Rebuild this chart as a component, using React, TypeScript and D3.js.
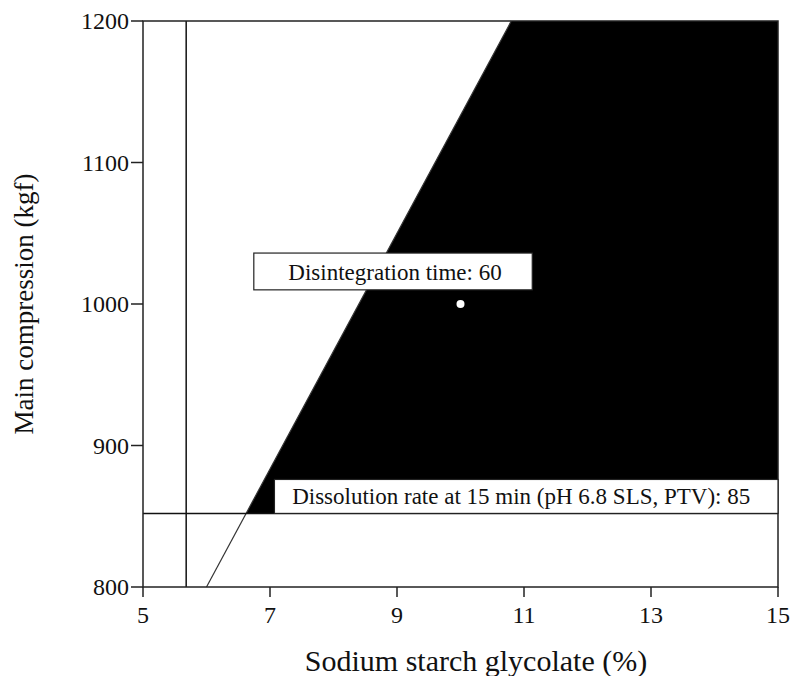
import React from 'react';
import * as d3 from 'd3';

// axis ticks
const xTicks = [5, 7, 9, 11, 13, 15];
const yTicks = [800, 900, 1000, 1100, 1200];

// constraint boundaries (x = SSG %, y = compression kgf)
const ssgLimit = 5.68;
const dissolutionLimit = 852;
const disintegrationBoundary: [number, number][] = [
  [6.0, 800],
  [10.8, 1200],
];
const designPoint: [number, number] = [10, 1000];

// annotation labels: box extents [x0, x1, y0, y1] in data units
const disintegrationLabel = 'Disintegration time: 60';
const disintegrationBox = [6.745, 11.13, 1010, 1036];
const dissolutionLabel = 'Dissolution rate at 15 min (pH 6.8 SLS, PTV): 85';
const dissolutionBox = [7.07, 15, 852, 876];

const W = 794;
const H = 676;
const margin = { top: 21, right: 16, bottom: 89, left: 143 };
const FONT = '"Liberation Serif", "Times New Roman", serif';

export default function App() {
  const x = d3.scaleLinear().domain([5, 15]).range([margin.left, W - margin.right]);
  const y = d3.scaleLinear().domain([800, 1200]).range([H - margin.bottom, margin.top]);

  // where the disintegration boundary meets the dissolution limit
  const [[bx0, by0], [bx1, by1]] = disintegrationBoundary;
  const crossX = bx0 + ((dissolutionLimit - by0) / (by1 - by0)) * (bx1 - bx0);

  const region: [number, number][] = [
    [crossX, dissolutionLimit],
    [bx1, by1],
    [15, 1200],
    [15, dissolutionLimit],
  ];
  const poly = d3.line<[number, number]>().x(d => x(d[0])).y(d => y(d[1]));

  const x0 = x(5), x1 = x(15), y0 = y(800), y1 = y(1200);

  return (
    <svg
      width={W}
      height={H}
      style={{ position: 'absolute', left: 0, top: 0, background: '#fff' }}
      fontFamily={FONT}
    >
      {/* feasible region */}
      <path d={poly(region) + 'Z'} fill="#000" />

      {/* disintegration boundary */}
      <path d={poly(disintegrationBoundary)} fill="none" stroke="#333" strokeWidth={1.2} />

      {/* SSG limit */}
      <line x1={x(ssgLimit)} x2={x(ssgLimit)} y1={y0} y2={y1} stroke="#111" strokeWidth={1.5} />
      {/* dissolution limit */}
      <line x1={x0} x2={x1} y1={y(dissolutionLimit)} y2={y(dissolutionLimit)} stroke="#111" strokeWidth={1.5} />

      {/* frame */}
      <rect x={x0} y={y1} width={x1 - x0} height={y0 - y1} fill="none" stroke="#222" strokeWidth={1.5} />

      {/* labels */}
      <rect
        x={x(disintegrationBox[0])}
        y={y(disintegrationBox[3])}
        width={x(disintegrationBox[1]) - x(disintegrationBox[0])}
        height={y(disintegrationBox[2]) - y(disintegrationBox[3])}
        fill="#fff"
        stroke="#222"
        strokeWidth={1.2}
      />
      <text
        x={(x(disintegrationBox[0]) + x(disintegrationBox[1])) / 2 + 2}
        y={(y(disintegrationBox[2]) + y(disintegrationBox[3])) / 2}
        dy="0.35em"
        textAnchor="middle"
        fontSize={23}
        fill="#111"
      >
        {disintegrationLabel}
      </text>
      <circle cx={x(designPoint[0])} cy={y(designPoint[1])} r={4} fill="#fff" />

      <rect
        x={x(dissolutionBox[0])}
        y={y(dissolutionBox[3])}
        width={x(dissolutionBox[1]) - x(dissolutionBox[0])}
        height={y(dissolutionBox[2]) - y(dissolutionBox[3])}
        fill="#fff"
        stroke="#222"
        strokeWidth={1.2}
      />
      <text
        x={(x(dissolutionBox[0]) + x(dissolutionBox[1])) / 2 - 5}
        y={(y(dissolutionBox[2]) + y(dissolutionBox[3])) / 2}
        dy="0.35em"
        textAnchor="middle"
        fontSize={23}
        fill="#111"
      >
        {dissolutionLabel}
      </text>

      {/* x axis */}
      {xTicks.map(t => (
        <g key={'x' + t}>
          <line x1={x(t)} x2={x(t)} y1={y0} y2={y0 + 10} stroke="#222" strokeWidth={1.5} />
          <text x={x(t)} y={y0 + 36} textAnchor="middle" fontSize={24} fill="#111">
            {t}
          </text>
        </g>
      ))}
      {/* y axis */}
      {yTicks.map(t => (
        <g key={'y' + t}>
          <line x1={x0 - 12} x2={x0} y1={y(t)} y2={y(t)} stroke="#222" strokeWidth={1.5} />
          <text x={x0 - 14} y={y(t)} dy="0.35em" textAnchor="end" fontSize={24} fill="#111">
            {t}
          </text>
        </g>
      ))}

      <text x={476} y={671} textAnchor="middle" fontSize={30} fill="#111">
        Sodium starch glycolate (%)
      </text>
      <text
        transform={`translate(33, ${(y0 + y1) / 2}) rotate(-90)`}
        textAnchor="middle"
        fontSize={27}
        fill="#111"
      >
        Main compression (kgf)
      </text>
    </svg>
  );
}
